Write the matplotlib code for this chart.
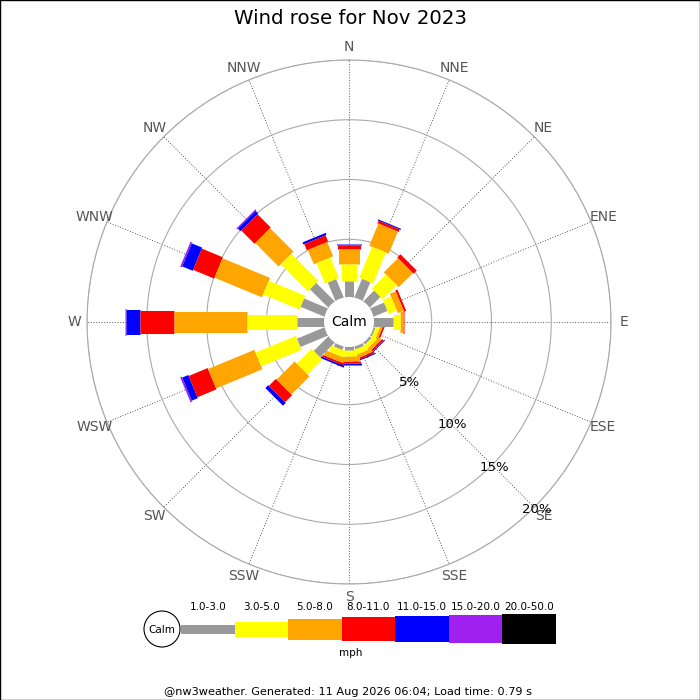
import numpy as np
import matplotlib
matplotlib.use('Agg')
from matplotlib import pyplot as plt
from matplotlib.patches import Circle, Rectangle

directions = ['N', 'NNE', 'NE', 'ENE', 'E', 'ESE', 'SE', 'SSE',
              'S', 'SSW', 'SW', 'WSW', 'W', 'WNW', 'NW', 'NNW']
speed_bins = ['1.0-3.0', '3.0-5.0', '5.0-8.0', '8.0-11.0',
              '11.0-15.0', '15.0-20.0', '20.0-50.0']

# percent of time per direction, one list per speed class
s_1_3 = [1.55, 1.83, 1.42, 1.40, 1.78, 0.30, 0.35, 0.40,
         0.40, 0.45, 1.88, 2.63, 2.40, 2.30, 2.33, 1.80]
s_3_5 = [1.42, 2.80, 1.66, 0.74, 0.55, 0.35, 0.40, 0.45,
         0.55, 0.55, 1.75, 3.66, 4.20, 3.30, 3.20, 1.87]
s_5_8 = [1.25, 2.00, 1.67, 0.53, 0.23, 0.20, 0.30, 0.30,
         0.40, 0.45, 2.14, 4.19, 6.15, 4.30, 2.77, 1.30]
s_8_11 = [0.32, 0.22, 0.38, 0.19, 0.11, 0.15, 0.17, 0.15,
          0.15, 0.17, 0.83, 1.72, 2.85, 1.90, 1.57, 0.56]
s_11_15 = [0.10, 0.10, 0.00, 0.00, 0.00, 0.00, 0.08, 0.10,
           0.15, 0.16, 0.34, 0.55, 1.10, 0.95, 0.30, 0.19]
s_15_20 = [0.0, 0.0, 0.0, 0.0, 0.0, 0.0, 0.0, 0.0,
           0.0, 0.0, 0.0, 0.15, 0.15, 0.15, 0.11, 0.0]
s_20_50 = [0.0] * 16

ring_ticks = [5, 10, 15, 20]

colors = ['#999999', '#ffff00', '#ffa500', '#ff0000', '#0000ff', '#a020f0', '#000000']
widths_px = [9, 15, 21, 23, 25, 27, 29]

series = np.array([s_1_3, s_3_5, s_5_8, s_8_11, s_11_15, s_15_20, s_20_50])
tops = np.cumsum(series, axis=0)
bottoms = tops - series
theta = np.deg2rad(np.arange(16) * 22.5)

fig = plt.figure(figsize=(7, 7), dpi=100)
ax = fig.add_axes([0.1243, 0.1657, 0.7486, 0.7486], projection='polar')
ax.set_theta_zero_location('N')
ax.set_theta_direction(-1)
ax.set_rorigin(-23 / 12)
ax.set_ylim(0, 20)
ax.set_xticks(theta)
ax.set_xticklabels([])
ax.set_yticks(ring_ticks)
ax.set_yticklabels([])
ax.xaxis.grid(True, color='#222222', linestyle=(0, (1, 2.2)), linewidth=0.6)
ax.yaxis.grid(True, color='#aaaaaa', linestyle='-', linewidth=0.8)
ax.spines['polar'].set_color('#aaaaaa')
ax.spines['polar'].set_linewidth(0.8)
ax.spines['inner'].set_visible(False)
ax.tick_params(length=0)

# outer classes first so the inner ones stay on top
for k in range(len(speed_bins) - 1, -1, -1):
    ax.vlines(theta, bottoms[k], tops[k], colors=colors[k],
              linewidth=widths_px[k] * 0.72, capstyle='butt', zorder=3 + (7 - k) * 0.1)

calm = Circle((0.5, 0.5), 25 / 524, transform=ax.transAxes,
              facecolor='white', edgecolor='none', zorder=5)
calm.set_clip_on(False)
ax.add_patch(calm)
ax.text(0.5, 0.5, 'Calm', transform=ax.transAxes, ha='center', va='center',
        fontsize=10, zorder=6)

for t, name in zip(theta, directions):
    ax.text(t, 21.09, name, ha='center', va='center', fontsize=10,
            color='#555555', clip_on=False)

for r in ring_ticks:
    ax.text(np.deg2rad(135), r + 0.25, '%d%%' % r, ha='center', va='center',
            fontsize=9.5, color='black', zorder=7, clip_on=False)

# legend, footer and title drawn in pixel coordinates
lg = fig.add_axes([0, 0, 1, 1])
lg.set_xlim(0, 700)
lg.set_ylim(700, 0)
lg.axis('off')
lg.patch.set_alpha(0)

seg = 53.5
lefts = 181 + np.arange(len(speed_bins)) * seg
heights = np.array([9, 15, 21, 24, 26, 28, 30])
lg.bar(lefts, heights, bottom=629 - heights / 2, width=seg, align='edge',
       color=colors, edgecolor='none')
for x, lab in zip(lefts, speed_bins):
    lg.text(x + seg / 2, 607, lab, ha='center', va='center', fontsize=7.5)
lg.add_patch(Circle((162, 629), 18, facecolor='white', edgecolor='black', lw=0.8))
lg.text(162, 630, 'Calm', ha='center', va='center', fontsize=7.5)
lg.text(351, 653, 'mph', ha='center', va='center', fontsize=7.5)

lg.text(348, 692, '@nw3weather. Generated: 11 Aug 2026 06:04; Load time: 0.79 s',
        ha='center', va='center', fontsize=8.1)
lg.text(351, 18, 'Wind rose for Nov 2023', ha='center', va='center', fontsize=14.2)

fig.patches.append(Rectangle((0.0007, 0.0007), 0.9986, 0.9986, transform=fig.transFigure,
                             fill=False, edgecolor='black', linewidth=1))

fig.savefig('out.png', dpi=100)
